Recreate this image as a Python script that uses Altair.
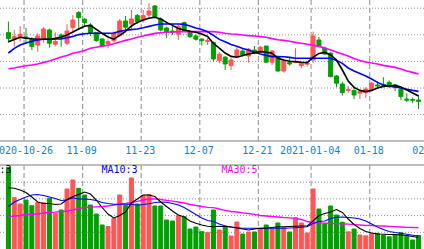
import altair as alt
import pandas as pd
import numpy as np

dates = ["2020-10-21","10-22","10-23","10-26","10-27","10-28","10-29","10-30",
         "11-02","11-03","11-04","11-05","11-06","11-09","11-10","11-11","11-12","11-13",
         "11-16","11-17","11-18","11-19","11-20","11-23","11-24","11-25","11-26","11-27","11-30",
         "12-01","12-02","12-03","12-04","12-07","12-08","12-09","12-10","12-11","12-14","12-15",
         "12-16","12-17","12-18","12-21","12-22","12-23","12-24","12-25","12-28","12-29","12-30","12-31",
         "2021-01-04","01-05","01-06","01-07","01-08","01-11","01-12","01-13","01-14","01-15",
         "01-18","01-19","01-20","01-21","01-22","01-25","01-26","01-27","01-28"]

opens = [13.37,13.04,13.17,13.15,13.04,12.75,13.09,13.50,12.79,13.25,
         12.84,13.62,14.37,14.04,13.75,13.37,13.05,12.80,12.97,13.22,
         13.95,13.80,14.22,14.00,14.25,14.70,14.05,13.60,13.45,13.29,
         13.87,13.42,13.20,13.05,12.93,12.87,11.97,12.14,11.72,12.17,
         12.45,12.20,12.50,12.42,12.70,11.89,12.12,11.45,11.87,11.87,
         11.72,11.79,12.00,13.00,12.60,12.34,11.20,10.80,10.48,10.47,
         10.34,10.37,10.50,10.75,10.78,10.88,10.75,10.54,10.05,10.03,10.00]
closes = [13.07,13.17,13.29,13.08,12.67,13.20,13.55,12.84,12.92,13.14,
          13.45,14.00,14.12,13.87,13.37,12.97,12.70,12.92,13.34,13.95,
          13.64,14.05,13.92,14.22,14.45,14.14,13.50,13.42,13.39,13.67,
          13.47,13.17,13.04,12.97,12.98,12.05,12.29,11.80,12.00,12.50,
          12.25,12.54,12.34,12.64,11.89,12.45,11.45,11.97,11.80,11.92,
          11.84,11.84,13.20,12.70,12.30,11.17,10.84,10.37,10.53,10.25,
          10.42,10.55,10.84,10.70,10.73,10.73,10.64,10.17,9.99,9.99,9.93]
highs = [13.92,13.50,13.70,13.60,13.14,13.34,13.65,13.57,13.39,13.34,
         13.79,14.25,14.45,14.09,13.84,13.40,13.09,13.04,13.42,14.04,
         14.20,14.50,14.30,14.50,14.84,14.75,14.13,13.67,13.80,13.80,
         13.92,13.47,13.29,13.09,13.10,12.92,12.39,12.20,12.12,12.67,
         12.59,12.59,12.70,12.70,12.70,12.50,12.17,12.04,12.12,12.59,
         11.87,11.92,13.42,13.15,12.67,12.40,11.25,10.92,10.70,10.64,
         10.47,10.64,10.92,10.92,11.14,10.97,10.80,10.59,10.34,10.12,10.25]
lows = [12.87,12.67,12.92,12.85,12.50,12.42,12.87,12.62,12.67,12.67,
        12.75,13.34,13.54,13.67,13.20,12.90,12.65,12.59,12.87,13.17,
        13.50,13.50,13.80,13.87,14.09,14.09,13.42,13.09,13.25,13.00,
        13.42,13.09,12.97,12.72,12.75,11.92,11.84,11.50,11.50,12.14,
        12.17,11.87,12.29,12.35,11.84,11.75,11.42,11.37,11.72,11.84,
        11.59,11.67,11.87,12.65,12.25,11.13,10.64,10.22,10.34,10.04,
        10.05,10.10,10.47,10.58,10.64,10.60,10.45,10.00,9.90,9.84,9.55]

ma5 = [12.91,13.03,13.14,13.09,13.06,13.04,13.04,13.04,13.08,13.14,
       13.25,13.40,13.55,13.69,13.73,13.53,13.33,13.15,13.04,13.23,
       13.43,13.70,13.88,14.00,14.09,14.14,14.05,13.88,13.73,13.58,
       13.50,13.44,13.39,13.30,13.18,12.83,12.59,12.35,12.18,12.14,
       12.23,12.30,12.37,12.42,12.39,12.34,12.09,12.00,11.94,11.92,
       11.89,11.87,12.13,12.33,12.38,12.25,12.00,11.50,10.95,10.63,
       10.48,10.42,10.48,10.60,10.68,10.70,10.73,10.65,10.50,10.35,10.20]
ma10 = [12.35,12.58,12.75,12.85,12.94,13.00,13.04,13.04,13.05,13.05,
        13.11,13.18,13.27,13.31,13.34,13.34,13.34,13.34,13.35,13.43,
        13.49,13.52,13.55,13.61,13.68,13.75,13.80,13.80,13.80,13.80,
        13.78,13.70,13.60,13.53,13.41,13.23,13.03,12.91,12.78,12.69,
        12.58,12.50,12.39,12.30,12.23,12.17,12.17,12.16,12.13,12.09,
        12.09,12.09,12.09,12.09,12.09,12.09,11.98,11.83,11.60,11.45,
        11.33,11.20,11.05,10.88,10.75,10.69,10.65,10.60,10.54,10.48,10.43]
ma30 = [11.56,11.60,11.66,11.71,11.75,11.80,11.88,11.95,12.05,12.15,
        12.23,12.34,12.40,12.48,12.59,12.64,12.69,12.74,12.81,12.90,
        12.98,13.05,13.14,13.20,13.27,13.33,13.36,13.39,13.40,13.41,
        13.41,13.42,13.42,13.42,13.42,13.42,13.39,13.34,13.30,13.29,
        13.25,13.22,13.20,13.17,13.14,13.07,13.01,12.98,12.94,12.88,
        12.84,12.79,12.74,12.68,12.60,12.50,12.40,12.30,12.20,12.08,
        11.98,11.90,11.85,11.80,11.73,11.68,11.63,11.55,11.45,11.38,11.30]

volumes = [81.5,51.3,45,49,43.3,46.3,46.3,50.7,35.7,39,
           60,69,60.7,54,44,35,24,22.5,30.5,54,
           43.5,71,45,53.7,54.5,43,43,29,28,33.2,
           32.3,20,22,17.3,16.3,39,19,23,13,27,
           15,17,17,20,24,20,26,21.3,17,31.3,
           26,16,60,40,25.3,43,34,26.8,17.2,20,
           14,13.2,15.3,15.7,13.5,12.2,14,16.2,12.7,9,13.5]
vma5 = [61.2,60.7,59,56.5,52,47,45.5,45.5,44.5,45,
        49.5,52.5,54.5,57,55,49,41.5,35,31,33.5,
        37,46,50,54,54,52.5,47,42.5,38,34,
        32,28,25.7,24,22.8,22.3,22.8,22.5,22,21,
        20,19,20,20.7,20.7,21.5,22.3,22.3,22.5,22.8,
        23,23,28,33.5,35.5,37,39.5,36.5,30,24.5,
        20.5,17.5,16,15,14.7,14.5,14.5,14,13.5,12.5,11.5]
vma10 = [42.5,47,49.5,52,54,54.5,53.5,52,50.5,48.5,
         49,51.2,50,50,49.5,48.5,46.5,45.5,44.7,44.7,
         44.7,44.5,44,44.5,45.2,46.5,47,46.7,45.5,44,
         41.5,38,34.5,31,28.5,27.5,25,23,22,21.2,
         20.7,20.7,20.7,20.7,20.7,20.7,20.7,20.7,21,21.3,
         21.7,22.3,25.5,27.5,28,30.5,31.8,32,31.5,31,
         30,28,25,22,19.5,17.5,16.5,15.7,14.7,13.8,13]
vma30 = [32.2,33,33.5,34.5,34.5,35.2,36,36.5,36.8,37.5,
         38,39,40.5,41.5,41.8,42.2,42.5,43,44,45,
         45.5,46.5,47.7,49,50,50.2,49.5,48.7,47.8,47,
         46,44.5,43.5,42.5,41.7,41.3,40,38.7,37.5,37,
         36.2,35.5,34.7,33.5,33,32.5,32,31.5,31.2,30.7,
         29.5,27.5,26.5,26.2,25.8,25.5,25.3,25,24.8,24.4,
         24,23.7,23.5,23.2,23,22.7,22.4,22,21.7,21.5,21.3]

tick_labels = ["2020-10-26","11-09","11-23","12-07","12-21","2021-01-04","01-18","02-01"]
tick_index = [3, 13, 23, 33, 43, 52, 62, 72]
price_grid = [14.59, 13.26, 11.93, 10.60, 9.27]
vol_grid = [16.7, 33.4, 50.1, 66.8]
legend_texts = ["MA5:3", "MA10:3", "MA30:5"]

RED = "#ff5555"
GREEN = "#00a000"
GRID = "#a0a0a0"
LBL = "#0a84d6"
FONT = "DejaVu Sans Mono"

df = pd.DataFrame({"i": list(range(len(dates))), "date": dates,
                   "open": opens, "high": highs, "low": lows, "close": closes,
                   "ma5": ma5, "ma10": ma10, "ma30": ma30,
                   "vol": volumes, "vma5": vma5, "vma10": vma10, "vma30": vma30})
df["dir"] = np.where(df["close"] >= df["open"], "up", "down")
ticks = pd.DataFrame({"ti": tick_index, "label": tick_labels})
pg = pd.DataFrame({"p": price_grid})
vg = pd.DataFrame({"v": vol_grid})
one = pd.DataFrame({"a": [0]})

XS = alt.Scale(domain=[-7 / 12, 70 + 1 / 12], nice=False, zero=False)
PS = alt.Scale(domain=[7.95, 15.0], range=[141, 0], nice=False, zero=False)
VS = alt.Scale(domain=[0, 84], range=[249, 165], nice=False, zero=True)
CS = alt.Scale(domain=["up", "down"], range=[RED, GREEN])

X = alt.X("i:Q", scale=XS, axis=None)
col = alt.Color("dir:N", scale=CS, legend=None)
stk = alt.Stroke("dir:N", scale=CS, legend=None)

base = alt.Chart(df)

vgrid_p = alt.Chart(ticks).transform_calculate(gx="datum.ti - 1/3").mark_rule(
    color=GRID, strokeWidth=1.2, strokeDash=[5, 3]).encode(
    x=alt.X("gx:Q", scale=XS, axis=None), y=alt.value(0), y2=alt.value(141))
vgrid_v = alt.Chart(ticks).transform_calculate(gx="datum.ti - 1/3").mark_rule(
    color=GRID, strokeWidth=1.2, strokeDash=[5, 3]).encode(
    x=alt.X("gx:Q", scale=XS, axis=None), y=alt.value(165), y2=alt.value(249))
hgrid_p = alt.Chart(pg).mark_rule(color="#909090", strokeWidth=1, strokeDash=[1, 2]).encode(
    y=alt.Y("p:Q", scale=PS, axis=None), x=alt.value(0), x2=alt.value(424))
hgrid_v = alt.Chart(vg).mark_rule(color="#909090", strokeWidth=1, strokeDash=[1, 2]).encode(
    y=alt.Y("v:Q", scale=VS, axis=None), x=alt.value(0), x2=alt.value(424))
sep1 = alt.Chart(one).mark_rule(color="#a8a8a8", strokeWidth=1.5).encode(
    x=alt.value(0), x2=alt.value(424), y=alt.value(141))
sep2 = alt.Chart(one).mark_rule(color="#a8a8a8", strokeWidth=1.5).encode(
    x=alt.value(0), x2=alt.value(424), y=alt.value(165))

wicks = base.mark_rule(strokeWidth=1).encode(
    x=X, y=alt.Y("low:Q", scale=PS, axis=None), y2="high:Q", color=col)
bodies = base.mark_bar(size=4, strokeWidth=1, orient="vertical").encode(
    x=X, y=alt.Y("open:Q", scale=PS, axis=None), y2="close:Q", color=col, stroke=stk)

def line(field, scale, color, width):
    return base.mark_line(color=color, strokeWidth=width).encode(
        x=X, y=alt.Y(field + ":Q", scale=scale, axis=None))

l5 = line("ma5", PS, "#000000", 1.6)
l10 = line("ma10", PS, "#0000ff", 1.6)
l30 = line("ma30", PS, "#ff00ff", 1.6)

vbars = base.mark_bar(size=4, strokeWidth=1, orient="vertical").encode(
    x=X, y=alt.Y("vol:Q", scale=VS, axis=None), color=col, stroke=stk)
v5 = line("vma5", VS, "#000000", 1.1)
v10 = line("vma10", VS, "#0000ff", 1.1)
v30 = line("vma30", VS, "#ff00ff", 1.3)

xlabels = alt.Chart(ticks).transform_calculate(gx="datum.ti - 1/3").mark_text(
    font=FONT, fontSize=10, color=LBL, baseline="alphabetic", align="center", dx=-1).encode(
    x=alt.X("gx:Q", scale=XS, axis=None), y=alt.value(153.5), text="label:N")

leg = pd.DataFrame({"t": legend_texts})
t1 = alt.Chart(leg.iloc[[0]]).mark_text(font=FONT, fontSize=10, color="#000000",
    baseline="alphabetic", align="right").encode(x=alt.value(11.5), y=alt.value(173.3), text="t:N")
t2 = alt.Chart(leg.iloc[[1]]).mark_text(font=FONT, fontSize=10, color="#0000ff",
    baseline="alphabetic", align="left").encode(x=alt.value(101.5), y=alt.value(173.3), text="t:N")
t3 = alt.Chart(leg.iloc[[2]]).mark_text(font=FONT, fontSize=10, color="#ff00ff",
    baseline="alphabetic", align="left").encode(x=alt.value(221.5), y=alt.value(173.3), text="t:N")

chart = alt.layer(
    vgrid_p, vgrid_v, hgrid_p, hgrid_v, sep1, sep2,
    wicks, bodies, l30, l10, l5,
    vbars, v30, v10, v5,
    xlabels, t1, t2, t3
).resolve_scale(y="independent").properties(
    width=424, height=249, padding=0,
    autosize=alt.AutoSizeParams(type="none"),
    background="white"
).configure_view(stroke=None)

chart.save("out.html", embed_options={"renderer": "svg", "actions": False})
